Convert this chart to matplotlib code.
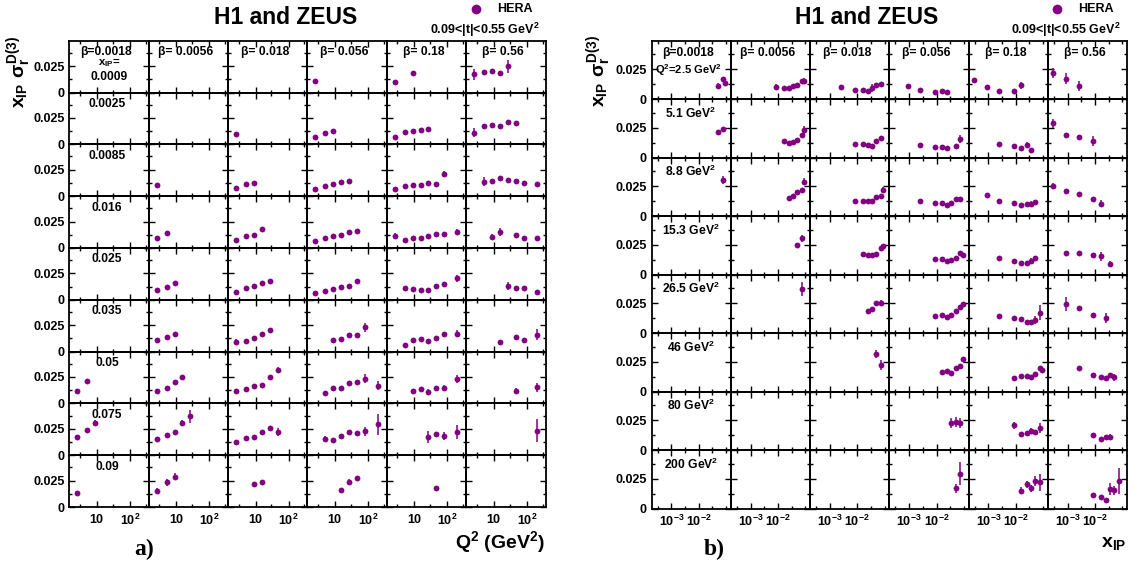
import matplotlib
matplotlib.use('Agg')
import matplotlib.pyplot as plt
from matplotlib.ticker import FixedLocator, FixedFormatter, NullFormatter
from matplotlib.lines import Line2D

plt.rcParams['font.family'] = ['Liberation Sans', 'DejaVu Sans']
plt.rcParams['font.weight'] = 'bold'
plt.rcParams['mathtext.fontset'] = 'custom'
plt.rcParams['mathtext.rm'] = 'Liberation Sans:bold'
plt.rcParams['mathtext.it'] = 'Liberation Sans:bold'
plt.rcParams['mathtext.bf'] = 'Liberation Sans:bold'
plt.rcParams['mathtext.sf'] = 'Liberation Sans:bold'

# ---------------- data ----------------
beta_vals = [0.0018, 0.0056, 0.018, 0.056, 0.18, 0.56]
beta_labels = ["β=0.0018", "β= 0.0056", "β= 0.018", "β= 0.056", "β= 0.18", "β= 0.56"]
xip_left = [0.0009, 0.0025, 0.0085, 0.016, 0.025, 0.035, 0.05, 0.075, 0.09]
xip_row_labels = ["0.0009", "0.0025", "0.0085", "0.016", "0.025", "0.035", "0.05", "0.075", "0.09"]
q2_right = [2.5, 5.1, 8.8, 15.3, 26.5, 46, 80, 200]
q2_row_labels = ["2.5", "5.1", "8.8", "15.3", "26.5", "46", "80", "200"]
E0 = 0.0007  # error hidden under the marker

# (x_IP, Q2, x_IP*sigma_r^D(3), error)
pts_b0018 = [
    (0.05, 2.5, 0.0114, 0.0018), (0.05, 5.1, 0.0212, 0.001),
    (0.075, 2.5, 0.0170, 0.0018), (0.075, 5.1, 0.0242, 0.001), (0.075, 8.8, 0.0303, 0.003),
    (0.09, 2.5, 0.0135, 0.0015),
]
pts_b0056 = [
    (0.0085, 2.5, 0.0105, 0.0018),
    (0.016, 2.5, 0.0095, E0), (0.016, 5.1, 0.0138, E0),
    (0.025, 2.5, 0.0092, E0), (0.025, 5.1, 0.0122, E0), (0.025, 8.8, 0.0156, E0),
    (0.035, 2.5, 0.0109, 0.0018), (0.035, 5.1, 0.0134, E0), (0.035, 8.8, 0.0170, E0),
    (0.05, 2.5, 0.0119, E0), (0.05, 5.1, 0.0150, E0), (0.05, 8.8, 0.0200, E0), (0.05, 15.3, 0.0249, 0.001),
    (0.075, 2.5, 0.0152, 0.0015), (0.075, 5.1, 0.0190, 0.0015), (0.075, 8.8, 0.0215, 0.001),
    (0.075, 15.3, 0.0305, 0.003), (0.075, 26.5, 0.0368, 0.006),
    (0.09, 2.5, 0.0156, 0.002), (0.09, 5.1, 0.0232, 0.003), (0.09, 8.8, 0.0287, 0.003),
]
pts_b018 = [
    (0.0025, 2.5, 0.0100, E0),
    (0.0085, 2.5, 0.0076, E0), (0.0085, 5.1, 0.0115, E0), (0.0085, 8.8, 0.0128, E0),
    (0.016, 2.5, 0.0075, E0), (0.016, 5.1, 0.0111, E0), (0.016, 8.8, 0.0126, E0), (0.016, 15.3, 0.0175, E0),
    (0.025, 2.5, 0.0070, E0), (0.025, 5.1, 0.0109, E0), (0.025, 8.8, 0.0130, E0), (0.025, 15.3, 0.0162, E0),
    (0.025, 26.5, 0.0182, E0),
    (0.035, 2.5, 0.0093, 0.003), (0.035, 5.1, 0.0100, E0), (0.035, 8.8, 0.0128, E0), (0.035, 15.3, 0.0162, E0),
    (0.035, 26.5, 0.0202, E0),
    (0.05, 2.5, 0.0119, E0), (0.05, 5.1, 0.0137, E0), (0.05, 8.8, 0.0161, E0), (0.05, 15.3, 0.0176, E0),
    (0.05, 26.5, 0.0250, E0), (0.05, 46, 0.0315, 0.003),
    (0.075, 2.5, 0.0125, E0), (0.075, 5.1, 0.0165, E0), (0.075, 8.8, 0.0168, E0), (0.075, 15.3, 0.0220, E0),
    (0.075, 26.5, 0.0255, 0.002), (0.075, 46, 0.0221, 0.004),
    (0.09, 8.8, 0.0221, 0.002), (0.09, 15.3, 0.0240, 0.002),
]
pts_b056 = [
    (0.0009, 2.5, 0.0111, 0.0015),
    (0.0025, 2.5, 0.0073, E0), (0.0025, 5.1, 0.0105, E0), (0.0025, 8.8, 0.0124, E0),
    (0.0085, 2.5, 0.0063, E0), (0.0085, 5.1, 0.0093, E0), (0.0085, 8.8, 0.0111, E0), (0.0085, 15.3, 0.0131, E0),
    (0.0085, 26.5, 0.0147, E0),
    (0.016, 2.5, 0.0069, E0), (0.016, 5.1, 0.0093, E0), (0.016, 8.8, 0.0110, E0), (0.016, 15.3, 0.0127, E0),
    (0.016, 26.5, 0.0150, E0), (0.016, 46, 0.0162, E0),
    (0.025, 2.5, 0.0062, E0), (0.025, 5.1, 0.0084, E0), (0.025, 8.8, 0.0097, E0), (0.025, 15.3, 0.0117, E0),
    (0.025, 26.5, 0.0132, E0), (0.025, 46, 0.0173, E0),
    (0.035, 8.8, 0.0110, E0), (0.035, 15.3, 0.0123, E0), (0.035, 26.5, 0.0155, E0), (0.035, 46, 0.0155, E0),
    (0.035, 80, 0.0228, 0.004),
    (0.05, 5.1, 0.0098, 0.0015), (0.05, 8.8, 0.0145, E0), (0.05, 15.3, 0.0142, E0), (0.05, 26.5, 0.0188, E0),
    (0.05, 46, 0.0201, E0), (0.05, 80, 0.0235, 0.004), (0.05, 200, 0.0169, 0.004),
    (0.075, 5.1, 0.0156, 0.003), (0.075, 8.8, 0.0147, E0), (0.075, 15.3, 0.0178, E0), (0.075, 26.5, 0.0216, E0),
    (0.075, 46, 0.0213, E0), (0.075, 80, 0.0225, 0.004), (0.075, 200, 0.0293, 0.010),
    (0.09, 15.3, 0.0165, E0), (0.09, 26.5, 0.0241, 0.002), (0.09, 46, 0.0271, 0.002),
]
pts_b18 = [
    (0.0003, 2.5, 0.0157, E0),
    (0.0009, 2.5, 0.0099, E0), (0.0009, 8.8, 0.0180, E0),
    (0.0025, 2.5, 0.0068, E0), (0.0025, 5.1, 0.0115, E0), (0.0025, 8.8, 0.0128, E0), (0.0025, 15.3, 0.0137, E0),
    (0.0025, 26.5, 0.0141, E0),
    (0.0085, 2.5, 0.0072, E0), (0.0085, 5.1, 0.0095, E0), (0.0085, 8.8, 0.0110, E0), (0.0085, 15.3, 0.0110, E0),
    (0.0085, 26.5, 0.0126, E0), (0.0085, 46, 0.0117, E0), (0.0085, 80, 0.0208, 0.003),
    (0.016, 2.5, 0.0116, 0.003), (0.016, 5.1, 0.0077, E0), (0.016, 8.8, 0.0092, E0), (0.016, 15.3, 0.0098, E0),
    (0.016, 26.5, 0.0116, E0), (0.016, 46, 0.0132, E0), (0.016, 80, 0.0133, E0), (0.016, 200, 0.0150, 0.003),
    (0.025, 5.1, 0.0108, 0.002), (0.025, 8.8, 0.0101, E0), (0.025, 15.3, 0.0096, E0), (0.025, 26.5, 0.0093, E0),
    (0.025, 46, 0.0130, E0), (0.025, 80, 0.0146, E0), (0.025, 200, 0.0202, 0.003),
    (0.035, 5.1, 0.0062, E0), (0.035, 8.8, 0.0105, 0.002), (0.035, 15.3, 0.0118, 0.002), (0.035, 26.5, 0.0096, E0),
    (0.035, 46, 0.0125, E0), (0.035, 80, 0.0163, 0.002), (0.035, 200, 0.0170, 0.003),
    (0.05, 8.8, 0.0121, E0), (0.05, 15.3, 0.0135, 0.002), (0.05, 26.5, 0.0110, 0.003), (0.05, 46, 0.0147, E0),
    (0.05, 80, 0.0150, 0.002), (0.05, 200, 0.0231, 0.004),
    (0.075, 26.5, 0.0172, 0.006), (0.075, 46, 0.0198, 0.002), (0.075, 80, 0.0184, 0.004), (0.075, 200, 0.0219, 0.007),
    (0.09, 46, 0.0178, 0.002),
]
pts_b56 = [
    (0.0003, 2.5, 0.0219, 0.004), (0.0003, 5.1, 0.0287, 0.004), (0.0003, 8.8, 0.0255, 0.002),
    (0.0009, 2.5, 0.0173, 0.005), (0.0009, 5.1, 0.0192, E0), (0.0009, 8.8, 0.0208, E0), (0.0009, 15.3, 0.0184, E0),
    (0.0009, 26.5, 0.0246, 0.006),
    (0.0025, 2.5, 0.0110, 0.004), (0.0025, 5.1, 0.0171, E0), (0.0025, 8.8, 0.0183, E0), (0.0025, 15.3, 0.0177, E0),
    (0.0025, 26.5, 0.0213, E0), (0.0025, 46, 0.0201, E0),
    (0.0085, 5.1, 0.0138, 0.004), (0.0085, 8.8, 0.0145, E0), (0.0085, 15.3, 0.0168, E0), (0.0085, 26.5, 0.0150, E0),
    (0.0085, 46, 0.0142, E0), (0.0085, 80, 0.0126, E0), (0.0085, 200, 0.0114, 0.002),
    (0.016, 8.8, 0.0105, 0.003), (0.016, 15.3, 0.0153, 0.004), (0.016, 46, 0.0125, E0), (0.016, 80, 0.0094, E0),
    (0.016, 200, 0.0093, 0.002),
    (0.025, 26.5, 0.0128, 0.004), (0.025, 46, 0.0111, E0), (0.025, 80, 0.0107, E0), (0.025, 200, 0.0070, 0.002),
    (0.035, 15.3, 0.0092, 0.002), (0.035, 46, 0.0135, 0.002), (0.035, 80, 0.0112, 0.002), (0.035, 200, 0.0160, 0.005),
    (0.05, 46, 0.0118, 0.003), (0.05, 200, 0.0152, 0.004),
    (0.075, 200, 0.0232, 0.011),
]
beta_points = [pts_b0018, pts_b0056, pts_b018, pts_b056, pts_b18, pts_b56]

# ---------------- layout ----------------
W, H = 1132, 567
fig = plt.figure(figsize=(W / 100, H / 100), dpi=100)
PURPLE = '#820082'
YMAX = 0.049
Q2_LIM = (1.44, 369)
XIP_LIM = (1.9e-4, 0.15)


def T(x, y, s, **kw):
    kw.setdefault('ha', 'center')
    kw.setdefault('va', 'center')
    fig.text(x / W, 1 - y / H, s, **kw)


def make_pad(x0, y0, w, h, xlim, xmaj, xmin, xlabs, show_y, show_x):
    ax = fig.add_axes([x0 / W, 1 - (y0 + h) / H, w / W, h / H])
    ax.set_xscale('log')
    ax.set_xlim(*xlim)
    ax.set_ylim(0, YMAX)
    ax.xaxis.set_major_locator(FixedLocator(xmaj))
    ax.xaxis.set_minor_locator(FixedLocator(xmin))
    ax.xaxis.set_minor_formatter(NullFormatter())
    ax.xaxis.set_major_formatter(FixedFormatter(xlabs) if show_x else NullFormatter())
    ax.yaxis.set_major_locator(FixedLocator([0, 0.025]))
    ax.yaxis.set_minor_locator(FixedLocator([0.0125, 0.0375]))
    ax.yaxis.set_major_formatter(FixedFormatter(['0', '0.025']) if show_y else NullFormatter())
    ax.tick_params(which='major', direction='in', top=True, right=True,
                   length=4.5, width=1.0, labelsize=9)
    ax.tick_params(which='minor', direction='in', top=True, right=True,
                   length=2.5, width=1.0)
    ax.tick_params(axis='y', pad=3.5)
    ax.tick_params(axis='x', pad=4)
    for s in ax.spines.values():
        s.set_linewidth(1.3)
    ax.set_facecolor('none')
    return ax


def draw(ax, xs, ys, es):
    if xs:
        ax.errorbar(xs, ys, yerr=es, fmt='o', color=PURPLE, ms=4.2, mew=0,
                    elinewidth=1.1, capsize=1.8, capthick=1.1)


# Left panel: versus Q2 at fixed x_IP
L_X0, L_X1, L_TOP, L_BOT = 69.3, 545.5, 40.7, 507.0
lw = (L_X1 - L_X0) / 6
lh = (L_BOT - L_TOP) / 9
for r, xip in enumerate(xip_left):
    for c in range(6):
        ax = make_pad(L_X0 + c * lw, L_TOP + r * lh, lw, lh, Q2_LIM,
                      [10, 100], [3, 30, 300], ['$10$', '$10^{2}$'],
                      c == 0, r == len(xip_left) - 1)
        sel = [(q, v, e) for (xi, q, v, e) in beta_points[c] if xi == xip]
        draw(ax, [s[0] for s in sel], [s[1] for s in sel], [s[2] for s in sel])

# Right panel: versus x_IP at fixed Q2
R_X0, R_X1, R_TOP, R_BOT = 651.7, 1127.2, 40.7, 508.5
rw = (R_X1 - R_X0) / 6
rh = (R_BOT - R_TOP) / 8
for r, q2 in enumerate(q2_right):
    for c in range(6):
        ax = make_pad(R_X0 + c * rw, R_TOP + r * rh, rw, rh, XIP_LIM,
                      [1e-3, 1e-2], [3.16e-4, 3.16e-3, 3.16e-2, 0.1],
                      ['$10^{-3}$', '$10^{-2}$'],
                      c == 0, r == len(q2_right) - 1)
        sel = [(xi, v, e) for (xi, q, v, e) in beta_points[c] if q == q2]
        draw(ax, [s[0] for s in sel], [s[1] for s in sel], [s[2] for s in sel])

# ---------------- texts ----------------
for off in (0, 581):
    T(286 + off, 17, 'H1 and ZEUS', fontsize=16.5)
    fig.add_artist(Line2D([(475.5 + off) / W], [1 - 8.5 / H], marker='o', ms=7,
                          color=PURPLE, mew=0, transform=fig.transFigure))
    T(497 + off, 9, 'HERA', fontsize=9, ha='left')
    T(540 + off, 30, '0.09<|t|<0.55 GeV$^{2}$', fontsize=9, ha='right')

T(19, 72, r'$x_{IP}\ \sigma_{r}^{D(3)}$', fontsize=14, rotation=90)
T(599, 71, r'$x_{IP}\ \sigma_{r}^{D(3)}$', fontsize=14, rotation=90)

for c in range(6):
    cx = L_X0 + (c + 0.5) * lw - 3
    T(cx, 52, beta_labels[c], fontsize=8.7)
    cx = R_X0 + (c + 0.5) * rw - 3
    T(cx, 53, beta_labels[c], fontsize=8.7)

T(109, 63.5, 'x$_{IP}$=', fontsize=8.2)
T(109, 76.5, xip_row_labels[0], fontsize=8.7)
for r in range(1, len(xip_left)):
    T(107, L_TOP + r * lh + 11.5, xip_row_labels[r], fontsize=8.7)

T(688, 70, 'Q$^{2}$=' + q2_row_labels[0] + ' GeV$^{2}$', fontsize=8)
for r in range(1, len(q2_right)):
    T(691, R_TOP + r * rh + 14, q2_row_labels[r] + ' GeV$^{2}$', fontsize=8.7)

T(545, 542, 'Q$^{2}$ (GeV$^{2}$)', fontsize=14, ha='right')
T(1126, 543, 'x$_{IP}$', fontsize=14, ha='right')
T(144, 549, 'a)', fontsize=17, family='Liberation Serif', fontweight='bold')
T(714, 549, 'b)', fontsize=17, family='Liberation Serif', fontweight='bold')

fig.savefig('out.png', dpi=100)
